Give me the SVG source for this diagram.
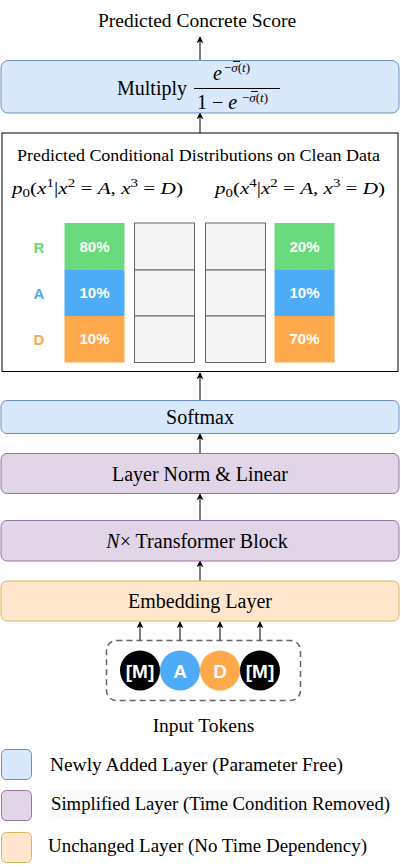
<svg xmlns="http://www.w3.org/2000/svg" width="401" height="867" viewBox="0 0 401 867">
<style>
.t{font-family:"Liberation Serif","Times New Roman",serif;fill:#000}
.i{font-style:italic}
.blue{fill:#dae8fc;stroke:#6c8ebf;stroke-width:1}
.purple{fill:#e1d5e7;stroke:#9673a6;stroke-width:1}
.orange{fill:#ffe6cc;stroke:#d6b656;stroke-width:1}
.conn line{stroke:#000;stroke-width:1;marker-end:url(#ah)}
.pct{font-family:"Liberation Sans",Arial,sans-serif;font-weight:bold;font-size:15px;fill:#fff;text-anchor:middle}
.lab{font-family:"Liberation Sans",Arial,sans-serif;font-weight:bold;font-size:15px;text-anchor:middle}
.grey{fill:#f5f5f5;stroke:#666;stroke-width:1}
.tok{font-family:"Liberation Sans",Arial,sans-serif;font-weight:bold;font-size:19px;fill:#fff;text-anchor:middle}
</style>
<defs>
<marker id="ah" viewBox="0 0 10 10" refX="9" refY="5" markerWidth="7" markerHeight="7" markerUnits="userSpaceOnUse" orient="auto">
<path d="M0,0 L10,5 L0,10 L3,5 Z" fill="#000"/>
</marker>
</defs>
<rect width="401" height="867" fill="#fff"/>

<g class="conn">
<line x1="200" y1="60" x2="200" y2="37"/>
<line x1="200" y1="133" x2="200" y2="113"/>
<line x1="200" y1="400" x2="200" y2="373"/>
<line x1="200" y1="453" x2="200" y2="434"/>
<line x1="200" y1="520" x2="200" y2="494"/>
<line x1="200" y1="581" x2="200" y2="561"/>
<line x1="140" y1="640" x2="140" y2="622"/>
<line x1="180" y1="640" x2="180" y2="622"/>
<line x1="220" y1="640" x2="220" y2="622"/>
<line x1="260" y1="640" x2="260" y2="622"/>
</g>

<g id="output-label">
<text class="t" x="197" y="27" font-size="19.5" text-anchor="middle">Predicted Concrete Score</text>
</g>

<g id="multiply">
<rect class="blue" x="1" y="60.5" width="398" height="52.5" rx="7"/>
<text class="t" x="117" y="95" font-size="20">Multiply</text>
<text class="t i" x="213" y="80" font-size="20">e</text>
<text class="t" x="224" y="72" font-size="13">−<tspan class="i">σ</tspan>(<tspan class="i">t</tspan>)</text>
<line x1="233" y1="61.5" x2="240" y2="61.5" stroke="#000" stroke-width="0.9"/>
<line x1="194" y1="88.5" x2="280" y2="88.5" stroke="#000" stroke-width="1"/>
<text class="t" x="197" y="109" font-size="20">1 − <tspan class="i">e</tspan></text>
<text class="t" x="242" y="102" font-size="13">−<tspan class="i">σ</tspan>(<tspan class="i">t</tspan>)</text>
<line x1="251" y1="91.5" x2="258" y2="91.5" stroke="#000" stroke-width="0.9"/>
</g>

<g id="distributions">
<rect x="2" y="133" width="396" height="238.5" fill="#fff" stroke="#000" stroke-width="1"/>
<text class="t" x="198.5" y="161" font-size="16.5" text-anchor="middle" textLength="363" lengthAdjust="spacingAndGlyphs">Predicted Conditional Distributions on Clean Data</text>
<text class="t" x="12" y="194" font-size="17" textLength="171" lengthAdjust="spacingAndGlyphs"><tspan class="i">p</tspan><tspan font-size="12" dy="3">0</tspan><tspan dy="-3">(</tspan><tspan class="i">x</tspan><tspan font-size="12" dy="-7">1</tspan><tspan dy="7">|</tspan><tspan class="i">x</tspan><tspan font-size="12" dy="-7">2</tspan><tspan dy="7"> = </tspan><tspan class="i">A</tspan><tspan>, </tspan><tspan class="i">x</tspan><tspan font-size="12" dy="-7">3</tspan><tspan dy="7"> = </tspan><tspan class="i">D</tspan><tspan>)</tspan></text>
<text class="t" x="215" y="194" font-size="17" textLength="170" lengthAdjust="spacingAndGlyphs"><tspan class="i">p</tspan><tspan font-size="12" dy="3">0</tspan><tspan dy="-3">(</tspan><tspan class="i">x</tspan><tspan font-size="12" dy="-7">4</tspan><tspan dy="7">|</tspan><tspan class="i">x</tspan><tspan font-size="12" dy="-7">2</tspan><tspan dy="7"> = </tspan><tspan class="i">A</tspan><tspan>, </tspan><tspan class="i">x</tspan><tspan font-size="12" dy="-7">3</tspan><tspan dy="7"> = </tspan><tspan class="i">D</tspan><tspan>)</tspan></text>

<text class="lab" x="39" y="253" fill="#69db7c">R</text>
<text class="lab" x="39" y="299" fill="#4dabf7">A</text>
<text class="lab" x="39" y="345" fill="#ffa94d">D</text>

<rect x="64.5" y="223" width="60" height="47" fill="#69db7c"/>
<rect x="64.5" y="270" width="60" height="46" fill="#4dabf7"/>
<rect x="64.5" y="316" width="60" height="46.5" fill="#ffa94d"/>
<text class="pct" x="94.5" y="252">80%</text>
<text class="pct" x="94.5" y="298">10%</text>
<text class="pct" x="94.5" y="344">10%</text>

<rect class="grey" x="134.5" y="223" width="60" height="47"/>
<rect class="grey" x="134.5" y="270" width="60" height="46"/>
<rect class="grey" x="134.5" y="316" width="60" height="46.5"/>
<rect class="grey" x="205.5" y="223" width="60" height="47"/>
<rect class="grey" x="205.5" y="270" width="60" height="46"/>
<rect class="grey" x="205.5" y="316" width="60" height="46.5"/>

<rect x="274.5" y="223" width="60" height="47" fill="#69db7c"/>
<rect x="274.5" y="270" width="60" height="46" fill="#4dabf7"/>
<rect x="274.5" y="316" width="60" height="46.5" fill="#ffa94d"/>
<text class="pct" x="304.5" y="252">20%</text>
<text class="pct" x="304.5" y="298">10%</text>
<text class="pct" x="304.5" y="344">70%</text>
</g>

<g id="softmax">
<rect class="blue" x="1" y="400.5" width="398" height="33" rx="6"/>
<text class="t" x="200" y="424" font-size="20" text-anchor="middle">Softmax</text>
</g>

<g id="layernorm">
<rect class="purple" x="1" y="453.5" width="398" height="40" rx="6"/>
<text class="t" x="200" y="481" font-size="20" text-anchor="middle">Layer Norm &amp; Linear</text>
</g>

<g id="transformer">
<rect class="purple" x="1" y="520.5" width="398" height="40.5" rx="6"/>
<text class="t" x="197" y="547.5" font-size="20" text-anchor="middle"><tspan class="i">N</tspan>×  Transformer Block</text>
</g>

<g id="embedding">
<rect class="orange" x="1" y="581" width="398" height="40" rx="6"/>
<text class="t" x="200" y="608" font-size="20" text-anchor="middle">Embedding Layer</text>
</g>

<g id="input-tokens">
<rect x="106.5" y="640.5" width="194" height="60" rx="10" fill="none" stroke="#666" stroke-width="1.5" stroke-dasharray="6,4"/>
<circle cx="140" cy="670.5" r="20" fill="#000"/>
<circle cx="180" cy="670.5" r="20" fill="#4dabf7"/>
<circle cx="220" cy="670.5" r="20" fill="#ffa94d"/>
<circle cx="260" cy="670.5" r="20" fill="#000"/>
<text class="tok" x="140" y="677.5">[M]</text>
<text class="tok" x="180" y="677.5">A</text>
<text class="tok" x="220" y="677.5">D</text>
<text class="tok" x="260" y="677.5">[M]</text>
<text class="t" x="203.5" y="732" font-size="19.5" text-anchor="middle">Input Tokens</text>
</g>

<g id="legend-new">
<rect class="blue" x="1.5" y="749.5" width="30" height="30" rx="5"/>
<text class="t" x="50" y="771" font-size="18" textLength="293" lengthAdjust="spacingAndGlyphs">Newly Added Layer  (Parameter Free)</text>
</g>
<g id="legend-simplified">
<rect x="50" y="790" width="340" height="29" fill="#fafafa"/>
<rect class="purple" x="1.5" y="790.5" width="30" height="30" rx="5"/>
<text class="t" x="51" y="810" font-size="18" textLength="339" lengthAdjust="spacingAndGlyphs">Simplified Layer (Time Condition Removed)</text>
</g>
<g id="legend-unchanged">
<rect class="orange" x="1.5" y="832.5" width="30" height="30" rx="5"/>
<text class="t" x="48" y="852" font-size="18" textLength="319" lengthAdjust="spacingAndGlyphs">Unchanged Layer (No Time Dependency)</text>
</g>
</svg>
